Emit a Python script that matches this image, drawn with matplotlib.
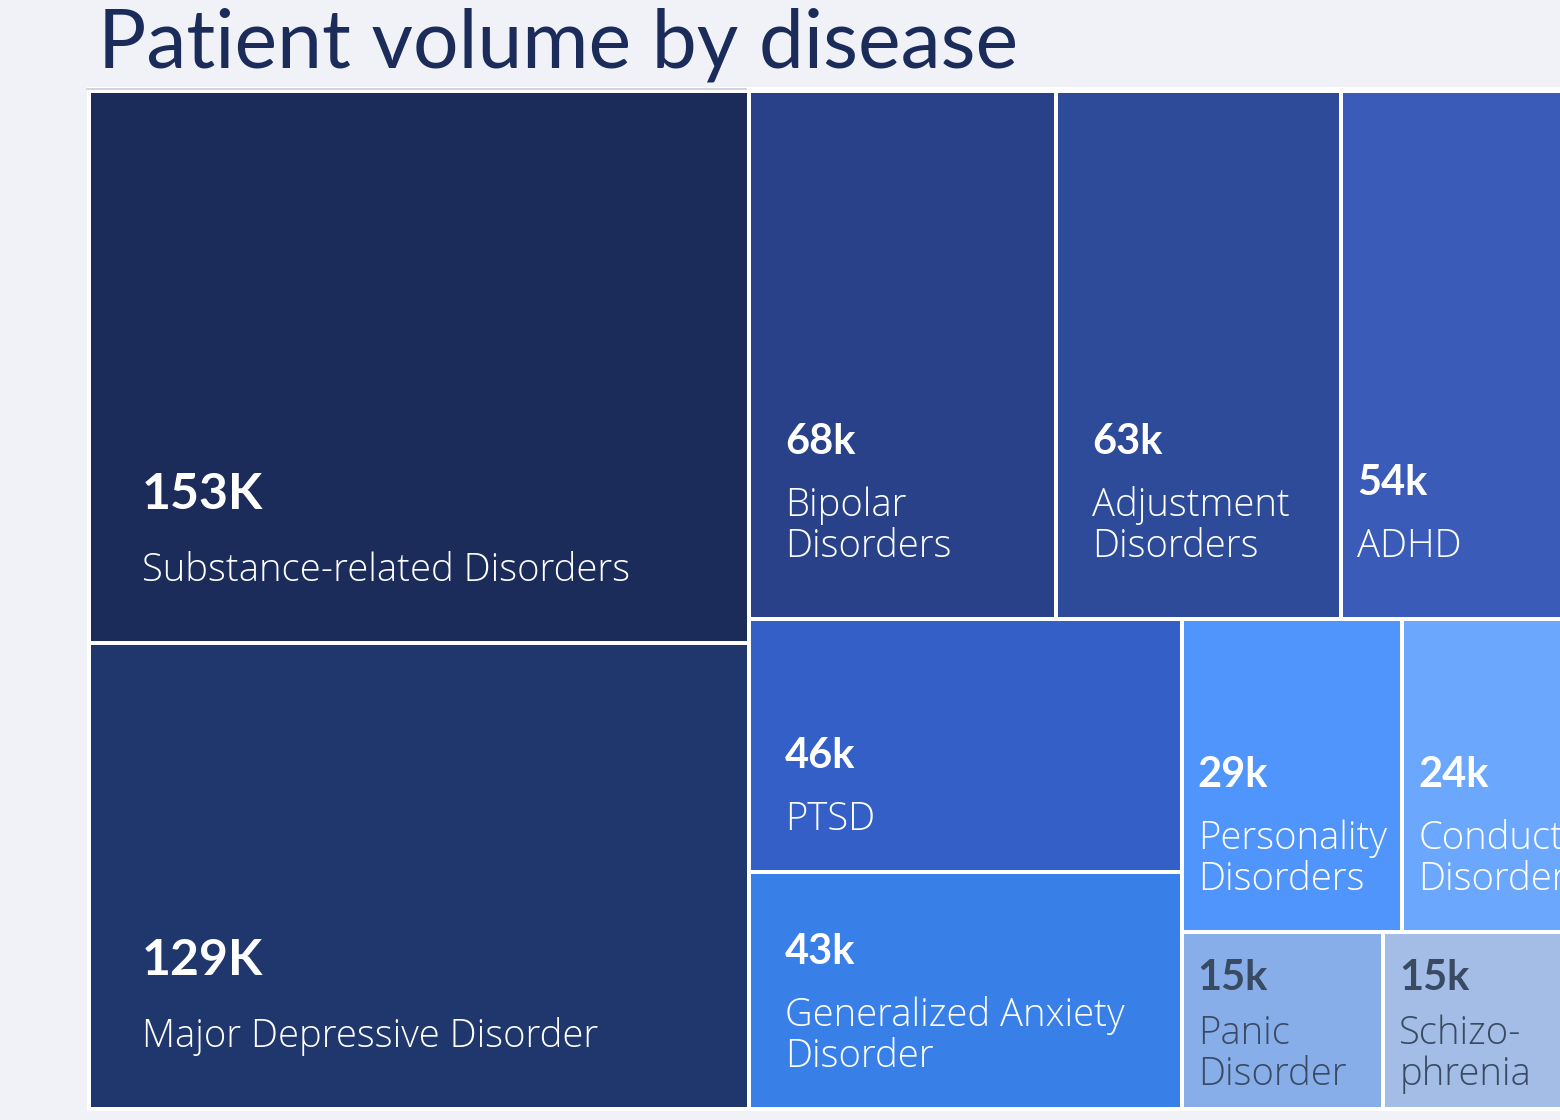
import matplotlib.pyplot as plt
from matplotlib.patches import Rectangle

plt.rcParams['font.family'] = ['Lato', 'DejaVu Sans']

# patient counts, thousands
values = [153, 129, 68, 63, 54, 46, 43, 29, 24, 15, 15]
names = [
    'Substance-related Disorders',
    'Major Depressive Disorder',
    'Bipolar\nDisorders',
    'Adjustment\nDisorders',
    'ADHD',
    'PTSD',
    'Generalized Anxiety\nDisorder',
    'Personality\nDisorders',
    'Conduct\nDisorders',
    'Panic\nDisorder',
    'Schizo-\nphrenia',
]
colors = ['#1b2c5b', '#20376d', '#284189', '#2d4b99', '#3a5bb8', '#335fc7',
          '#3880e8', '#5095fb', '#6ba8fd', '#88aeea', '#a3bde6']
text_colors = ['white'] * 9 + ['#3a4a62', '#3a4a62']

# nesting of the tiles, split direction alternates per level
tree = [[0, 1], [[2, 3, 4], [[5, 6], [[7, 8], [9, 10]]]]]


def total(node):
    if isinstance(node, int):
        return values[node]
    return sum(total(c) for c in node)


def layout(node, x, y, w, h, horizontal, out):
    if isinstance(node, int):
        out[node] = (x, y, w, h)
        return
    s = total(node)
    for c in node:
        t = total(c)
        if horizontal:
            cw = w * t / s
            layout(c, x, y, cw, h, False, out)
            x += cw
        else:
            ch = h * t / s
            layout(c, x, y, w, ch, True, out)
            y += ch


fig = plt.figure(figsize=(15.6, 11.2), dpi=100, facecolor='#f0f2f7')
ax = fig.add_axes([0, 0, 1, 1])
ax.set_xlim(0, 1560)
ax.set_ylim(1120, 0)
ax.axis('off')

ax.text(98, 68, 'Patient volume by disease', fontsize=58, color='#1b2c5a',
        va='baseline', ha='left', family=['Lato', 'DejaVu Sans'])

# white backing panel
ax.add_patch(Rectangle((87, 87), 1600, 1024, facecolor='white', edgecolor='none'))
ax.plot([87, 746], [88.5, 88.5], color='#c9ccd3', lw=1.2)

cells = {}
layout(tree, 89, 91, 1496, 1018, True, cells)

gap = 2
for i, (x, y, w, h) in cells.items():
    ax.add_patch(Rectangle((x + gap, y + gap), w - 2 * gap, h - 2 * gap,
                           facecolor=colors[i], edgecolor='none'))

    pad_x = 53 if w >= 600 else (36 if w >= 250 else 16)
    pad_y = 62 if h >= 400 else (42 if h >= 200 else 24)
    lines = names[i].split('\n')
    base = y + h - pad_y
    for k, line in enumerate(reversed(lines)):
        ax.text(x + pad_x, base - k * 41, line, fontsize=27.5,
                color=text_colors[i], va='baseline', ha='left',
                family=['Open Sans', 'DejaVu Sans'], fontweight='light')

    v = values[i]
    label = f'{v}K' if v >= 100 else f'{v}k'
    vgap = 72 if v >= 100 else (62 if h >= 200 else 54)
    ax.text(x + pad_x, base - (len(lines) - 1) * 41 - vgap, label,
            fontsize=36 if v >= 100 else 30, fontweight='bold',
            color=text_colors[i], va='baseline', ha='left')

fig.savefig('out.png', dpi=100, facecolor=fig.get_facecolor())
